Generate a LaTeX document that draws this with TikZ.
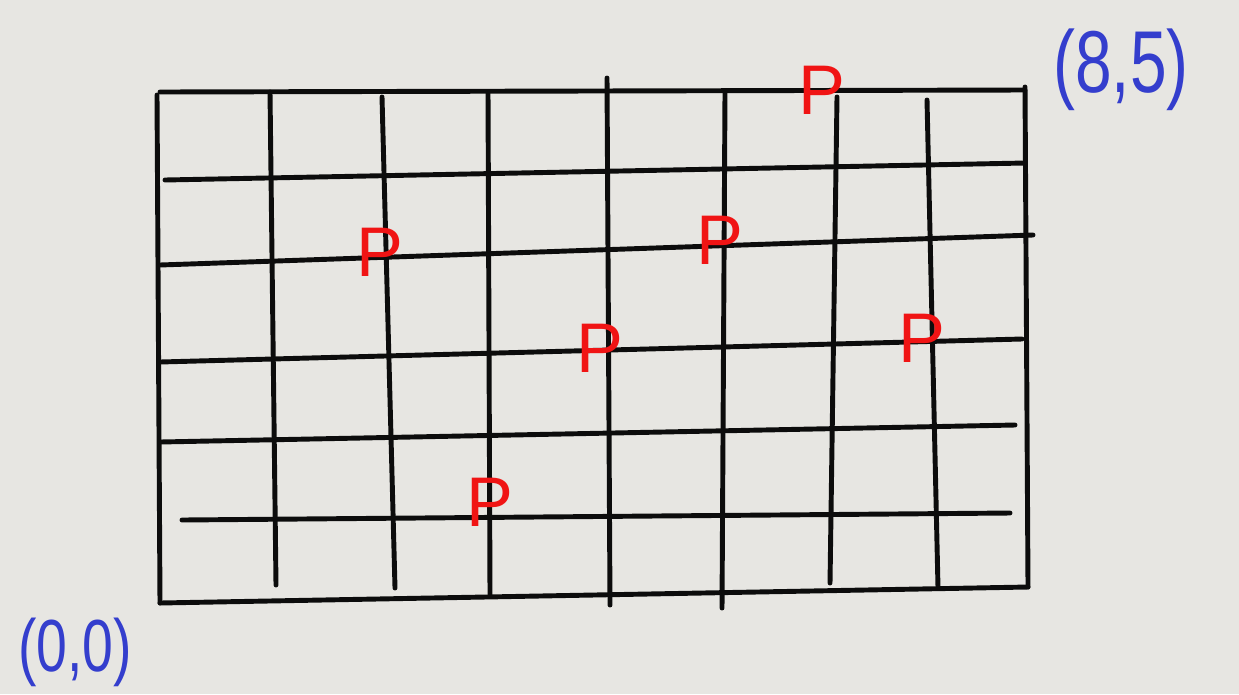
\documentclass[tikz,border=0pt]{standalone}
\usepackage{fontspec}
\setmainfont{Liberation Sans}
\usepackage{xcolor}
\definecolor{PaperGrey}{RGB}{231,230,226}
\definecolor{InkBlack}{RGB}{12,12,12}
\definecolor{MarkRed}{RGB}{240,20,20}
\definecolor{PenBlue}{RGB}{52,62,205}
\tikzset{
  gridline/.style={InkBlack,line width=2.8pt,line cap=round},
  pmark/.style={MarkRed,font=\fontsize{40}{40}\selectfont},
  corner/.style={PenBlue,xscale=0.75}
}

\begin{document}
\begin{tikzpicture}[x=0.02cm,y=-0.02cm]
  % paper
  \fill[PaperGrey] (0,0) rectangle (1239,694);
  \useasboundingbox (0,0) rectangle (1239,694);

  % horizontal strokes
  \foreach \xa/\ya/\xb/\yb in {160/92/1025/90, 165/180/1025/163, 160/265/1033/235,
      160/362/1022/339, 160/442/1015/425, 182/520/1010/513, 160/603/1028/587} {
    \draw[gridline] (\xa,\ya) -- (\xb,\yb);
  }

  % vertical strokes
  \foreach \xa/\ya/\xb/\yb in {157/95/160/603, 270/92/276/585, 382/97/395/588,
      488/92/490/595, 607/78/610/605, 725/92/722/608, 837/97/830/583,
      927/100/938/588, 1025/87/1028/587} {
    \draw[gridline] (\xa,\ya) -- (\xb,\yb);
  }

  % red marks
  \foreach \n/\x/\y in {pa/822/90, pb/380/252, pc/720/240, pd/600/348, pe/922/338, pf/490/502} {
    \node[pmark] (\n) at (\x,\y) {P};
  }

  % corner labels
  \node[corner,font=\fontsize{50}{50}\selectfont] (topright) at (1121,70) {(8,5)};
  \node[corner,font=\fontsize{42}{42}\selectfont] (origin) at (75,652) {(0,0)};
\end{tikzpicture}
\end{document}
